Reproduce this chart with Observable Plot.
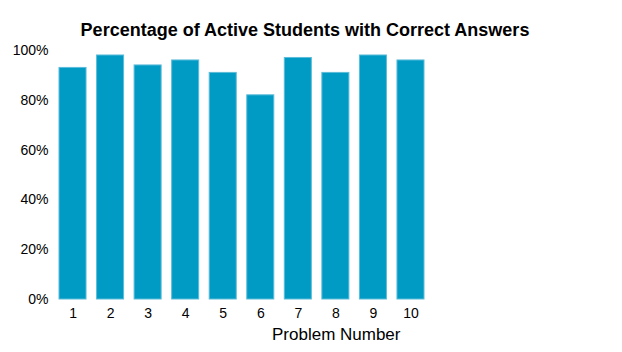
<!DOCTYPE html>
<html>
<head>
<meta charset="utf-8">
<script src="https://cdn.jsdelivr.net/npm/d3@7"></script>
<script src="https://cdn.jsdelivr.net/npm/@observablehq/plot@0.6"></script>
<style>
  body { margin: 0; background: #fff; font-family: "Liberation Sans", Arial, sans-serif; }
  #wrap { width: 622px; height: 352px; position: relative; }
  #title { position: absolute; left: 0; top: 18px; width: 610px; text-align: center; font-size: 18px; font-weight: bold; color: #000; line-height: 24px; }
  #chart { position: absolute; left: 0; top: 40px; }
</style>
</head>
<body>
<div id="wrap">
  <div id="title">Percentage of Active Students with Correct Answers</div>
  <div id="chart"></div>
</div>
<script>
const problems = [1, 2, 3, 4, 5, 6, 7, 8, 9, 10];
const percentCorrect = [93, 98, 94, 96, 91, 82, 97, 91, 98, 96];
const yTicks = [0, 20, 40, 60, 80, 100];
const xLabel = "Problem Number";

const data = problems.map((p, i) => ({problem: p, value: percentCorrect[i]}));

const chart = Plot.plot({
  width: 622,
  height: 312,
  marginTop: 10,
  marginBottom: 53,
  marginLeft: 59,
  marginRight: 198,
  style: {fontFamily: "Liberation Sans, Arial, sans-serif", fontSize: "14px", color: "#000", background: "#fff"},
  x: {domain: problems, paddingInner: 0.28, paddingOuter: 0, round: false, label: null},
  y: {domain: [0, 100], label: null},
  marks: [
    Plot.barY(data, {x: "problem", y: "value", fill: "#009bc4", stroke: "#5dbcd9", strokeWidth: 1}),
    Plot.axisY({ticks: yTicks, tickFormat: d => d + "%", tickSize: 0, tickPadding: 11, fontSize: 14, label: null}),
    Plot.axisX({tickSize: 0, tickPadding: 9, fontSize: 14, label: null}),
    Plot.text([xLabel], {frameAnchor: "bottom-right", dx: -24, dy: 40, fontSize: 17, fill: "#000", textAnchor: "end"})
  ]
});
document.getElementById("chart").appendChild(chart);
</script>
</body>
</html>
